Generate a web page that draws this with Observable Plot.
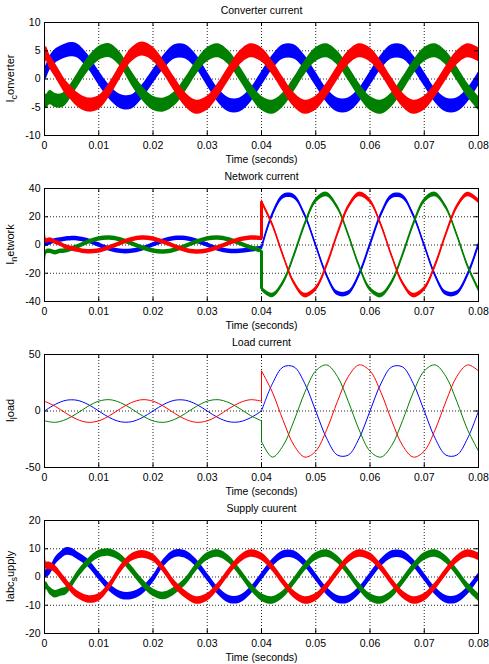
<!DOCTYPE html>
<html>
<head>
<meta charset="utf-8">
<script src="https://cdn.jsdelivr.net/npm/d3@7"></script>
<script src="https://cdn.jsdelivr.net/npm/@observablehq/plot@0.6"></script>
<style>
  body { margin: 0; background: #fff; }
  #chart svg { display: block; }
</style>
</head>
<body>
<div id="chart"></div>
<script>
// ---------- shared axis values ----------
const xTicks = [0, 0.01, 0.02, 0.03, 0.04, 0.05, 0.06, 0.07, 0.08];
const xLabel = "Time (seconds)";

// ---------- Panel 1: Converter current ----------
const convTitle = "Converter current";
const convYTicks = [-10, -5, 0, 5, 10];
const convT = [0, 0.0003, 0.001, 0.002, 0.003, 0.004, 0.005, 0.006, 0.008, 0.010, 0.012, 0.014, 0.016, 0.018, 0.020, 0.022, 0.024, 0.026, 0.028, 0.030, 0.032, 0.034, 0.036, 0.038, 0.040, 0.042, 0.044, 0.046, 0.048, 0.050, 0.052, 0.054, 0.056, 0.058, 0.060, 0.062, 0.064, 0.066, 0.068, 0.070, 0.072, 0.074, 0.076, 0.078, 0.080];
const convBlue = [0.8, 1.2, 2.8, 4.0, 4.6, 5.0, 5.2, 5.0, 3.1, 0.2, -2.4, -4.0, -4.1, -2.3, 0.4, 3.0, 4.8, 4.8, 3.0, 0.0, -2.9, -4.6, -4.6, -2.9, 0.0, 2.9, 4.8, 4.8, 2.9, 0.0, -2.9, -4.6, -4.6, -2.9, 0.0, 2.9, 4.8, 4.8, 2.9, 0.0, -2.9, -4.6, -4.6, -2.9, 0.0];
const convGreen = [7.5, -4.0, -3.3, -3.8, -3.9, -3.3, -1.9, -0.4, 2.5, 4.5, 5.0, 3.4, 0.2, -2.5, -4.3, -4.6, -3.5, -1.0, 2.0, 4.3, 5.0, 3.7, 1.0, -2.0, -4.3, -5.0, -3.7, -1.0, 2.0, 4.3, 5.0, 3.7, 1.0, -2.0, -4.3, -5.0, -3.7, -1.0, 2.0, 4.3, 5.0, 3.7, 1.0, -2.0, -4.3];
const convRed = [-9.5, 4.5, 3.0, 1.5, -0.1, -1.6, -2.6, -3.6, -4.6, -4.2, -1.9, 1.3, 4.2, 5.3, 4.4, 2.0, -1.0, -3.7, -5.0, -4.3, -2.0, 1.0, 3.7, 5.0, 4.3, 2.0, -1.0, -3.7, -5.0, -4.3, -2.0, 1.0, 3.7, 5.0, 4.3, 2.0, -1.0, -3.7, -5.0, -4.3, -2.0, 1.0, 3.7, 5.0, 4.3];
const convRipple = 1.25;

// ---------- Panel 2: Network current ----------
const netTitle = "Network current";
const netYTicks = [-40, -20, 0, 20, 40];
const netT1 = [0, 0.0003, 0.001, 0.002, 0.003, 0.004, 0.006, 0.008, 0.010, 0.012, 0.014, 0.016, 0.018, 0.020, 0.022, 0.024, 0.026, 0.028, 0.030, 0.032, 0.034, 0.036, 0.038, 0.040];
const netBlue1 = [0, 0.5, 1.5, 3.0, 3.5, 4.2, 4.5, 3.0, 0, -2.9, -4.5, -4.5, -2.9, 0, 2.9, 4.6, 4.6, 2.9, 0, -2.9, -4.5, -4.5, -3.5, -2.5];
const netGreen1 = [-20, -5, -4.5, -5.5, -4.5, -4, -1.5, 2, 4.3, 5, 3.7, 1, -2, -4.3, -5, -3.7, -1, 2, 4.3, 5, 3.7, 1, -2, -4];
const netRed1 = [19, 3, 3.5, 2, 0.5, -1.5, -3.5, -4.8, -4.3, -2, 1, 3.7, 5, 4.3, 2, -1, -3.7, -5, -4.3, -2, 1, 3.7, 5, 4.5];
const netT2 = [0.040, 0.042, 0.044, 0.046, 0.048, 0.050, 0.052, 0.054, 0.056, 0.058, 0.060, 0.062, 0.064, 0.066, 0.068, 0.070, 0.072, 0.074, 0.076, 0.078, 0.080];
const netBlue2 = [-2.5, 21.2, 34.2, 34.2, 21.2, 0, -21.2, -34.2, -34.2, -21.2, 0, 21.2, 34.2, 34.2, 21.2, 0, -21.2, -34.2, -34.2, -21.2, 0];
const netGreen2 = [-31, -35.8, -26.7, -7.5, 14.7, 31.2, 35.8, 26.7, 7.5, -14.7, -31.2, -35.8, -26.7, -7.5, 14.7, 31.2, 35.8, 26.7, 7.5, -14.7, -31.2];
const netRed2 = [31, 14.7, -7.5, -26.7, -35.8, -31.2, -14.7, 7.5, 26.7, 35.8, 31.2, 14.7, -7.5, -26.7, -35.8, -31.2, -14.7, 7.5, 26.7, 35.8, 31.2];
const netRipple = 1.6;

// ---------- Panel 3: Load current ----------
const loadTitle = "Load current";
const loadYTicks = [-50, 0, 50];
const loadT1 = [0, 0.002, 0.004, 0.006, 0.008, 0.010, 0.012, 0.014, 0.016, 0.018, 0.020, 0.022, 0.024, 0.026, 0.028, 0.030, 0.032, 0.034, 0.036, 0.038, 0.040];
const loadBlue1 = [0, 5.9, 9.5, 9.5, 5.9, 0, -5.9, -9.5, -9.5, -5.9, 0, 5.9, 9.5, 9.5, 5.9, 0, -5.9, -9.5, -9.5, -5.9, 0];
const loadGreen1 = [-8.7, -10, -7.4, -2.1, 4.1, 8.7, 10, 7.4, 2.1, -4.1, -8.7, -10, -7.4, -2.1, 4.1, 8.7, 10, 7.4, 2.1, -4.1, -8.7];
const loadRed1 = [8.7, 4.1, -2.1, -7.4, -10, -8.7, -4.1, 2.1, 7.4, 10, 8.7, 4.1, -2.1, -7.4, -10, -8.7, -4.1, 2.1, 7.4, 10, 8.7];
const loadT2 = [0.040, 0.042, 0.044, 0.046, 0.048, 0.050, 0.052, 0.054, 0.056, 0.058, 0.060, 0.062, 0.064, 0.066, 0.068, 0.070, 0.072, 0.074, 0.076, 0.078, 0.080];
const loadBlue2 = [0, 24.1, 39, 39, 24.1, 0, -24.1, -39, -39, -24.1, 0, 24.1, 39, 39, 24.1, 0, -24.1, -39, -39, -24.1, 0];
const loadGreen2 = [-27, -40.8, -30.5, -8.5, 16.7, 35.5, 40.8, 30.5, 8.5, -16.7, -35.5, -40.8, -30.5, -8.5, 16.7, 35.5, 40.8, 30.5, 8.5, -16.7, -35.5];
const loadRed2 = [35.5, 16.7, -8.5, -30.5, -40.8, -35.5, -16.7, 8.5, 30.5, 40.8, 35.5, 16.7, -8.5, -30.5, -40.8, -35.5, -16.7, 8.5, 30.5, 40.8, 35.5];

// ---------- Panel 4: Supply current ----------
const supTitle = "Supply cuurent";
const supYTicks = [-20, -10, 0, 10, 20];
const supT = [0, 0.0003, 0.001, 0.002, 0.003, 0.004, 0.005, 0.006, 0.008, 0.010, 0.012, 0.014, 0.016, 0.018, 0.020, 0.022, 0.024, 0.026, 0.028, 0.030, 0.032, 0.034, 0.036, 0.038, 0.040, 0.042, 0.044, 0.046, 0.048, 0.050, 0.052, 0.054, 0.056, 0.058, 0.060, 0.062, 0.064, 0.066, 0.068, 0.070, 0.072, 0.074, 0.076, 0.078, 0.080];
const supBlue = [0.9, 1.2, 2.1, 5.6, 7.6, 9.0, 8.8, 7.6, 5.0, 0.4, -3.8, -6.4, -6.7, -4.9, -0.8, 5.0, 8.2, 7.9, 4.9, 0, -4.9, -7.9, -7.9, -4.9, 0, 4.9, 7.9, 7.9, 4.9, 0, -4.9, -7.9, -7.9, -4.9, 0, 4.9, 7.9, 7.9, 4.9, 0, -4.9, -7.9, -7.9, -4.9, 0];
const supGreen = [-9, -3, -4.9, -6.1, -5.5, -4.9, -2.6, 0.4, 5.0, 8.0, 8.6, 6.8, 2.7, -2.0, -5.5, -6.7, -4.9, -1.7, 3.4, 7.2, 8.3, 6.2, 1.7, -3.4, -7.2, -8.3, -6.2, -1.7, 3.4, 7.2, 8.3, 6.2, 1.7, -3.4, -7.2, -8.3, -6.2, -1.7, 3.4, 7.2, 8.3, 6.2, 1.7, -3.4, -7.2];
const supRed = [10, 4, 3.9, 2.7, 0.4, -2, -4.4, -6.1, -7.9, -7.3, -3.2, 2.7, 6.8, 8.0, 6.8, 2.7, -2.6, -6.2, -8.3, -7.2, -3.4, 1.7, 6.2, 8.3, 7.2, 3.4, -1.7, -6.2, -8.3, -7.2, -3.4, 1.7, 6.2, 8.3, 7.2, 3.4, -1.7, -6.2, -8.3, -7.2, -3.4, 1.7, 6.2, 8.3, 7.2];
const supRipple = 1.35;

// ---------- colours ----------
const BLUE = "#0000ff", GREEN = "#008000", RED = "#ff0000";

// ---------- helpers ----------
const W = 489, H = 166;
const M = {top: 22, bottom: 31, left: 44, right: 11};
const FONT = '"Liberation Sans", Arial, Helvetica, sans-serif';
const FS = "10.5px";

function rows(t, v, seg) {
  return t.map((ti, i) => ({t: ti, v: v[i], seg}));
}

function makePanel({title, ylab, yTicks, series, ripple, thin}) {
  const xDom = [xTicks[0], xTicks[xTicks.length - 1]];
  const yDom = [yTicks[0], yTicks[yTicks.length - 1]];
  const xGrid = xTicks.slice(1, -1);
  const yGrid = yTicks.slice(1, -1);
  const ty = (yDom[1] - yDom[0]) * 4 / (H - M.top - M.bottom);
  const tx = (xDom[1] - xDom[0]) * 4 / (W - M.left - M.right);

  const marks = [
    Plot.gridX(xGrid, {stroke: "#000", strokeOpacity: 0.85, strokeDasharray: "1,2"}),
    Plot.gridY(yGrid, {stroke: "#000", strokeOpacity: 0.85, strokeDasharray: "1,2"})
  ];

  for (const s of series) {
    const data = s.segs.flat();
    if (thin) {
      marks.push(Plot.line(data, {x: "t", y: "v", z: "seg", stroke: s.color, strokeWidth: 1, curve: "catmull-rom", clip: true}));
    } else {
      marks.push(Plot.areaY(data, {x: "t", y1: d => d.v - ripple, y2: d => d.v + ripple, z: "seg", fill: s.color, curve: "catmull-rom", clip: true}));
      marks.push(Plot.line(data, {x: "t", y: "v", z: "seg", stroke: s.color, strokeWidth: 1.2, curve: "catmull-rom", clip: true}));
    }
    if (s.segs.length > 1) {
      const jumps = [];
      for (let k = 1; k < s.segs.length; k++) {
        const a = s.segs[k - 1][s.segs[k - 1].length - 1];
        const b = s.segs[k][0];
        jumps.push({x: b.t, y1: a.v, y2: b.v});
      }
      marks.push(Plot.link(jumps, {x1: "x", x2: "x", y1: "y1", y2: "y2", stroke: s.color, strokeWidth: thin ? 1 : 3}));
    }
  }

  marks.push(
    Plot.frame({stroke: "#000", strokeWidth: 1}),
    Plot.ruleX(xTicks, {x: d => d, y1: yDom[0], y2: yDom[0] + ty, stroke: "#000"}),
    Plot.ruleX(xTicks, {x: d => d, y1: yDom[1], y2: yDom[1] - ty, stroke: "#000"}),
    Plot.ruleY(yTicks, {y: d => d, x1: xDom[0], x2: xDom[0] + tx, stroke: "#000"}),
    Plot.ruleY(yTicks, {y: d => d, x1: xDom[1], x2: xDom[1] - tx, stroke: "#000"}),
    Plot.axisX(xTicks, {tickSize: 0, tickPadding: 6, label: null, tickFormat: d => d === 0 ? "0" : d.toFixed(2)}),
    Plot.axisY(yTicks, {tickSize: 0, tickPadding: 4, label: null, tickFormat: d => String(d)}),
    Plot.text([title], {text: d => d, frameAnchor: "top", lineAnchor: "middle", dy: -12, fill: "#000"}),
    Plot.text([xLabel], {text: d => d, frameAnchor: "bottom", lineAnchor: "middle", dy: 24, fill: "#000"})
  );

  const svg = Plot.plot({
    width: W, height: H,
    marginTop: M.top, marginBottom: M.bottom, marginLeft: M.left, marginRight: M.right,
    x: {domain: xDom},
    y: {domain: yDom},
    style: {fontFamily: FONT, fontSize: FS, background: "white", color: "black", overflow: "visible"},
    marks
  });

  // y label with subscript part (MATLAB TeX style)
  const cy = (M.top + (H - M.bottom)) / 2;
  const txt = d3.select(svg).append("text")
    .attr("transform", `translate(14,${cy}) rotate(-90)`)
    .attr("text-anchor", "middle")
    .attr("fill", "#000")
    .style("font-family", FONT)
    .style("font-size", "11px");
  txt.append("tspan").text(ylab[0]);
  txt.append("tspan").attr("dy", 3).style("font-size", "9px").text(ylab[1]);
  txt.append("tspan").attr("dy", -3).text(ylab[2]);
  return svg;
}

const chart = document.getElementById("chart");

chart.appendChild(makePanel({
  title: convTitle, ylab: ["I", "c", "onverter"], yTicks: convYTicks, ripple: convRipple,
  series: [
    {color: BLUE, segs: [rows(convT, convBlue, 0)]},
    {color: GREEN, segs: [rows(convT, convGreen, 0)]},
    {color: RED, segs: [rows(convT, convRed, 0)]}
  ]
}));

chart.appendChild(makePanel({
  title: netTitle, ylab: ["I", "n", "etwork"], yTicks: netYTicks, ripple: netRipple,
  series: [
    {color: BLUE, segs: [rows(netT1, netBlue1, 0), rows(netT2, netBlue2, 1)]},
    {color: GREEN, segs: [rows(netT1, netGreen1, 0), rows(netT2, netGreen2, 1)]},
    {color: RED, segs: [rows(netT1, netRed1, 0), rows(netT2, netRed2, 1)]}
  ]
}));

chart.appendChild(makePanel({
  title: loadTitle, ylab: ["I", "l", "oad"], yTicks: loadYTicks, thin: true,
  series: [
    {color: BLUE, segs: [rows(loadT1, loadBlue1, 0), rows(loadT2, loadBlue2, 1)]},
    {color: GREEN, segs: [rows(loadT1, loadGreen1, 0), rows(loadT2, loadGreen2, 1)]},
    {color: RED, segs: [rows(loadT1, loadRed1, 0), rows(loadT2, loadRed2, 1)]}
  ]
}));

chart.appendChild(makePanel({
  title: supTitle, ylab: ["Iabc", "s", "upply"], yTicks: supYTicks, ripple: supRipple,
  series: [
    {color: BLUE, segs: [rows(supT, supBlue, 0)]},
    {color: GREEN, segs: [rows(supT, supGreen, 0)]},
    {color: RED, segs: [rows(supT, supRed, 0)]}
  ]
}));
</script>
</body>
</html>
